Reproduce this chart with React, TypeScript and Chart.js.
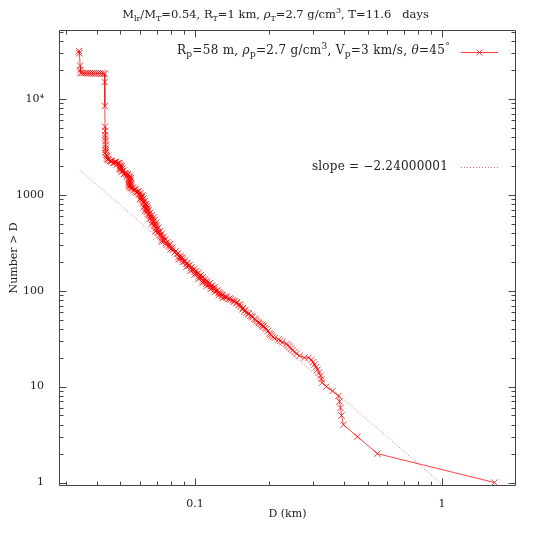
import React, { useEffect, useRef } from "react";
import { Chart, registerables } from "chart.js";

Chart.register(...registerables);

// ---- data (D in km, N = number of fragments larger than D) ----
const sizeKm: number[] = [
  0.03398, 0.0341, 0.03435, 0.03442, 0.0345, 0.03483, 0.03548, 0.03615, 0.03683, 0.03752,
  0.03823, 0.03895, 0.03968, 0.04043, 0.04119, 0.04196, 0.04275, 0.04315, 0.0432, 0.04325,
  0.0433, 0.04335, 0.0434, 0.04345, 0.0435, 0.04355, 0.0436, 0.0437, 0.0438, 0.04396,
  0.04479, 0.04605, 0.04735, 0.0487, 0.04961, 0.0499, 0.05, 0.05007, 0.05054, 0.05197,
  0.05345, 0.05446, 0.0542, 0.0541, 0.054, 0.054, 0.0542, 0.05497, 0.05652, 0.05812,
  0.05976, 0.06032, 0.06088, 0.06203, 0.06261, 0.06319, 0.06379, 0.06499, 0.06621, 0.06745,
  0.06872, 0.07001, 0.07133, 0.07267, 0.07403, 0.07613, 0.07829, 0.08127, 0.08434, 0.08754,
  0.09086, 0.0943, 0.09788, 0.1016, 0.1054, 0.1094, 0.1136, 0.1179, 0.1224, 0.127,
  0.1318, 0.1368, 0.142, 0.1474, 0.153, 0.1588, 0.1648, 0.1711, 0.1776, 0.1843,
  0.1895, 0.1949, 0.1975, 0.2004, 0.202, 0.2042, 0.207, 0.2099, 0.2179, 0.2215,
  0.2262, 0.2348, 0.238, 0.2415, 0.245, 0.2483, 0.253, 0.2577, 0.265, 0.2776,
  0.2881, 0.2963, 0.3005, 0.3047, 0.309, 0.3133, 0.3178, 0.3222, 0.325, 0.327,
  0.3406, 0.3603, 0.381, 0.3846, 0.3882, 0.3918, 0.3992, 0.4547, 0.5477, 1.627,
];
const countAbove: number[] = [
  31600, 29900, 22200, 20000, 18700, 18600, 18580, 18560, 18540, 18520,
  18500, 18480, 18460, 18440, 18420, 18400, 18350, 18200, 15000, 8430,
  5130, 4630, 4200, 3910, 3640, 3310, 3080, 2810, 2600, 2420,
  2307, 2225, 2171, 2120, 2045, 1997, 1903, 1814, 1729, 1668,
  1609, 1533, 1461, 1393, 1327, 1265, 1206, 1177, 1122, 1057,
  995, 926, 883, 821, 764, 711, 662, 616, 573, 521,
  473, 430, 400, 372, 338, 314, 292, 266, 241, 219,
  199, 181, 164, 149, 136, 123, 115, 107, 99, 92,
  86, 82, 80, 74, 68, 61, 57, 53, 48, 45,
  43, 40, 38, 36, 35, 34, 33, 32, 31, 30,
  29, 28, 27, 26, 25, 24, 23, 22, 21, 20,
  20, 19, 18, 17, 16, 15, 14, 13, 12, 11,
  10, 9, 8, 7, 6, 5, 4, 3, 2, 1,
];
// further readings inside the thick part of the band (upper-left edge)
const bandSizeKm: number[] = [
  0.04355, 0.04335, 0.04416, 0.04437, 0.04542, 0.04669, 0.04802, 0.04826, 0.04915, 0.05007,
  0.04961, 0.05101, 0.05149, 0.05271, 0.05296, 0.05395, 0.05497, 0.05472, 0.05573, 0.05705,
  0.05758, 0.05894, 0.05921, 0.0606, 0.06004, 0.06145, 0.06145, 0.0629, 0.06203, 0.06349,
  0.0629, 0.06439, 0.06439, 0.0659, 0.0656, 0.06714, 0.06683, 0.06839, 0.06967, 0.06935,
  0.07098, 0.07197, 0.07334, 0.07334, 0.07507, 0.07683, 0.07977, 0.07977, 0.08279, 0.08592,
  0.08592, 0.08918, 0.08918, 0.09254, 0.09254, 0.09608, 0.09608, 0.0997, 0.0997, 0.1035,
  0.1035, 0.1074, 0.1074, 0.1115, 0.1115, 0.1157, 0.1157, 0.1201, 0.1201, 0.1247,
  0.1247, 0.1294, 0.1294, 0.1343, 0.1394, 0.1447, 0.1502, 0.1559, 0.1618, 0.1679,
  0.1743, 0.1809, 0.1869, 0.1922,
];
const bandCount: number[] = [
  2933, 2729, 2539, 2334, 2252, 2146, 2198, 2070, 2146, 1950,
  1858, 1771, 1648, 1648, 1541, 1486, 1360, 1265, 1163, 1149,
  1082, 1070, 1019, 971, 904, 893, 841, 802, 746, 737,
  678, 686, 631, 601, 560, 546, 496, 484, 451, 414,
  409, 381, 354, 326, 330, 301, 270, 287, 250, 227,
  214, 211, 199, 190, 179, 172, 162, 157, 148, 142,
  134, 129, 122, 119, 112, 111, 104, 103, 97, 96,
  90, 89, 84, 85, 81, 77, 71, 64, 59, 55,
  51, 47, 44, 41,
];
// further readings inside the band (lower-right edge)
const bandEdgeSizeKm: number[] = [
  0.0446, 0.0458, 0.0476, 0.0495, 0.0506, 0.0509, 0.0515, 0.0525, 0.0535, 0.0545,
  0.0551, 0.0549, 0.0552, 0.0553, 0.0561, 0.0575, 0.0592, 0.0602, 0.0614, 0.0612,
  0.0618, 0.0628, 0.0635, 0.0641, 0.0645, 0.0652, 0.066, 0.067, 0.0681, 0.0688,
  0.0698, 0.0702, 0.0712, 0.0725, 0.0736, 0.0748, 0.076, 0.0775, 0.0792, 0.081,
  0.0838, 0.0856, 0.0875, 0.089, 0.091, 0.0932, 0.0951, 0.0972, 0.0995, 0.1012,
  0.1035, 0.1056, 0.108, 0.11, 0.1121, 0.115, 0.1175, 0.1205, 0.123, 0.126,
  0.129, 0.1335, 0.138, 0.1435, 0.148, 0.1525, 0.1565, 0.16, 0.165, 0.17,
  0.176, 0.182, 0.188,
];
const bandEdgeCount: number[] = [
  2380, 2260, 2190, 2140, 2000, 1880, 1790, 1700, 1640, 1580,
  1500, 1420, 1300, 1230, 1190, 1140, 1100, 1040, 980, 950,
  910, 860, 800, 770, 725, 690, 650, 610, 580, 545,
  510, 480, 455, 420, 395, 365, 345, 322, 305, 280,
  260, 245, 230, 222, 205, 195, 185, 176, 168, 160,
  153, 145, 139, 132, 126, 120, 113, 109, 101, 95,
  91, 87, 83, 78, 76, 72, 66, 63, 58, 54,
  50, 46, 42,
];

// fitted power law (slope = -2.24000001), end points
const slopeD: number[] = [0.0342, 1.01];
const slopeN: number[] = [1815, 0.93];

// ---- axes ----
const xRange: number[] = [0.0282, 1.99];
const yRange: number[] = [0.92, 52300];
const xTickValues: number[] = [0.1, 1];
const xTickLabels: string[] = ["0.1", "1"];
const yTickValues: number[] = [1, 10, 100, 1000, 10000];
const yTickLabels: string[] = ["1", "10", "100", "1000", "10\u2074"];

const FONT = '"DejaVu Serif", serif';
const FS = 11;
const RED = "rgba(255,0,0,0.75)";
const RED_DOT = "rgba(255,0,0,0.6)";

type Seg = { t: string; s?: "sub" | "sup"; i?: boolean };

const titleSegs: Seg[] = [
  { t: "M" }, { t: "lr", s: "sub" }, { t: "/M" }, { t: "T", s: "sub" },
  { t: "=0.54, R" }, { t: "T", s: "sub" }, { t: "=1 km, " }, { t: "\u03c1", i: true },
  { t: "T", s: "sub" }, { t: "=2.7 g/cm" }, { t: "3", s: "sup" }, { t: ", T=11.6   days" },
];
const legend1Segs: Seg[] = [
  { t: "R" }, { t: "p", s: "sub" }, { t: "=58 m, " }, { t: "\u03c1", i: true }, { t: "p", s: "sub" },
  { t: "=2.7 g/cm" }, { t: "3", s: "sup" }, { t: ", V" }, { t: "p", s: "sub" },
  { t: "=3 km/s, " }, { t: "\u03b8", i: true }, { t: "=45" }, { t: "\u00b0", s: "sup" },
];
const legend2Segs: Seg[] = [{ t: "slope = \u22122.24000001" }];

function drawRich(ctx: any, segs: Seg[], x: number, y: number, align: string, size: number, spacing: number) {
  const fontFor = (s: Seg) => `${s.i ? "italic " : ""}${s.s ? Math.round(size * 0.72) : size}px ${FONT}`;
  ctx.letterSpacing = `${spacing}px`;
  const widths = segs.map((s) => {
    ctx.font = fontFor(s);
    return ctx.measureText(s.t).width;
  });
  const total = widths.reduce((a, b) => a + b, 0);
  let cx = align === "center" ? x - total / 2 : align === "right" ? x - total : x;
  ctx.textAlign = "left";
  ctx.textBaseline = "middle";
  segs.forEach((s, k) => {
    ctx.font = fontFor(s);
    const dy = s.s === "sub" ? size * 0.3 : s.s === "sup" ? -size * 0.38 : 0;
    ctx.fillText(s.t, cx, y + dy);
    cx += widths[k];
  });
  ctx.letterSpacing = "0px";
}

const framePlugin = {
  id: "gnuframe",
  afterDraw(chart: any) {
    const ctx: CanvasRenderingContext2D = chart.ctx;
    const xs = chart.scales.x;
    const ys = chart.scales.y;
    const { left, right, top, bottom } = chart.chartArea;
    ctx.save();
    ctx.strokeStyle = "#444";
    ctx.lineWidth = 1;
    const L = Math.round(left) + 0.5;
    const R = Math.round(right) - 0.5;
    const T = Math.round(top) + 0.5;
    const B = Math.round(bottom) - 0.5;
    ctx.beginPath();
    ctx.rect(L, T, R - L, B - T);
    ctx.stroke();
    ctx.beginPath();
    for (const d of [0.01, 0.1, 1]) {
      for (let m = 1; m <= 9; m++) {
        const v = m * d;
        if (v < xRange[0] || v > xRange[1]) continue;
        const len = m === 1 ? 7 : 4;
        const px = Math.round(xs.getPixelForValue(v)) + 0.5;
        ctx.moveTo(px, B); ctx.lineTo(px, B - len);
        ctx.moveTo(px, T); ctx.lineTo(px, T + len);
      }
    }
    for (const d of [0.1, 1, 10, 100, 1000, 10000]) {
      for (let m = 1; m <= 9; m++) {
        const v = m * d;
        if (v < yRange[0] || v > yRange[1]) continue;
        const len = m === 1 ? 7 : 4;
        const py = Math.round(ys.getPixelForValue(v)) + 0.5;
        ctx.moveTo(L, py); ctx.lineTo(L + len, py);
        ctx.moveTo(R, py); ctx.lineTo(R - len, py);
      }
    }
    ctx.stroke();

    ctx.fillStyle = "#222";
    drawRich(ctx, titleSegs, 275.5, 15.5, "center", 11.5, 0);
    drawRich(ctx, legend1Segs, 450, 51, "right", 12, 0.3);
    drawRich(ctx, legend2Segs, 448, 166.5, "right", 12, 0.2);

    // legend samples
    ctx.strokeStyle = RED;
    ctx.beginPath();
    ctx.moveTo(461, 52.5); ctx.lineTo(498, 52.5);
    ctx.moveTo(479.5 - 3, 52.5 - 3); ctx.lineTo(479.5 + 3, 52.5 + 3);
    ctx.moveTo(479.5 - 3, 52.5 + 3); ctx.lineTo(479.5 + 3, 52.5 - 3);
    ctx.stroke();
    ctx.strokeStyle = RED_DOT;
    ctx.setLineDash([1, 2]);
    ctx.beginPath();
    ctx.moveTo(461, 167.5); ctx.lineTo(498, 167.5);
    ctx.stroke();
    ctx.restore();
  },
};

export default function App() {
  const ref = useRef<HTMLCanvasElement | null>(null);
  useEffect(() => {
    if (!ref.current) return;
    const points = [
      ...sizeKm.map((d, i) => ({ x: d, y: countAbove[i] })),
      ...bandSizeKm.map((d, i) => ({ x: d, y: bandCount[i] })),
      ...bandEdgeSizeKm.map((d, i) => ({ x: d, y: bandEdgeCount[i] })),
    ].sort((a, b) => b.y - a.y || a.x - b.x);
    const chart = new Chart(ref.current, {
      type: "scatter",
      data: {
        datasets: [
          {
            label: "Rp=58 m, \u03c1p=2.7 g/cm3, Vp=3 km/s, \u03b8=45\u00b0",
            data: points,
            showLine: true,
            borderColor: RED,
            borderWidth: 1,
            pointStyle: "crossRot",
            pointRadius: 4.5,
            pointBorderColor: RED,
            pointBorderWidth: 1,
            pointBackgroundColor: RED,
          },
          {
            label: "slope = \u22122.24000001",
            data: slopeD.map((d, i) => ({ x: d, y: slopeN[i] })),
            showLine: true,
            borderColor: RED_DOT,
            borderWidth: 1,
            borderDash: [1, 2],
            pointRadius: 0,
          },
        ],
      },
      options: {
        responsive: false,
        animation: false,
        layout: { padding: { top: 30, right: 29, left: 0, bottom: 0 } },
        plugins: { legend: { display: false }, title: { display: false }, tooltip: { enabled: false } },
        scales: {
          x: {
            type: "logarithmic",
            min: xRange[0],
            max: xRange[1],
            grid: { display: false },
            border: { display: false },
            afterBuildTicks: (s: any) => { s.ticks = xTickValues.map((v) => ({ value: v })); },
            afterFit: (s: any) => { s.height = 59; },
            ticks: {
              autoSkip: false,
              maxRotation: 0,
              padding: 4,
              color: "#222",
              font: { family: FONT, size: FS },
              callback: (_v: any, i: number) => xTickLabels[i],
            },
            title: { display: true, text: "D (km)", color: "#222", font: { family: FONT, size: FS }, padding: { top: 0, bottom: 24 } },
          },
          y: {
            type: "logarithmic",
            min: yRange[0],
            max: yRange[1],
            grid: { display: false },
            border: { display: false },
            afterBuildTicks: (s: any) => { s.ticks = yTickValues.map((v) => ({ value: v })); },
            afterFit: (s: any) => { s.width = 59; },
            ticks: {
              autoSkip: false,
              padding: 7,
              color: "#222",
              font: { family: FONT, size: FS },
              callback: (_v: any, i: number) => yTickLabels[i],
            },
            title: { display: true, text: "Number > D", color: "#222", font: { family: FONT, size: FS }, padding: { top: 8, bottom: 0 } },
          },
        },
      },
      plugins: [framePlugin],
    } as any);
    return () => chart.destroy();
  }, []);
  return (
    <div style={{ position: "absolute", left: 0, top: 0, width: 545, height: 545, background: "#fff" }}>
      <canvas ref={ref} width={545} height={545} style={{ display: "block" }} />
    </div>
  );
}
